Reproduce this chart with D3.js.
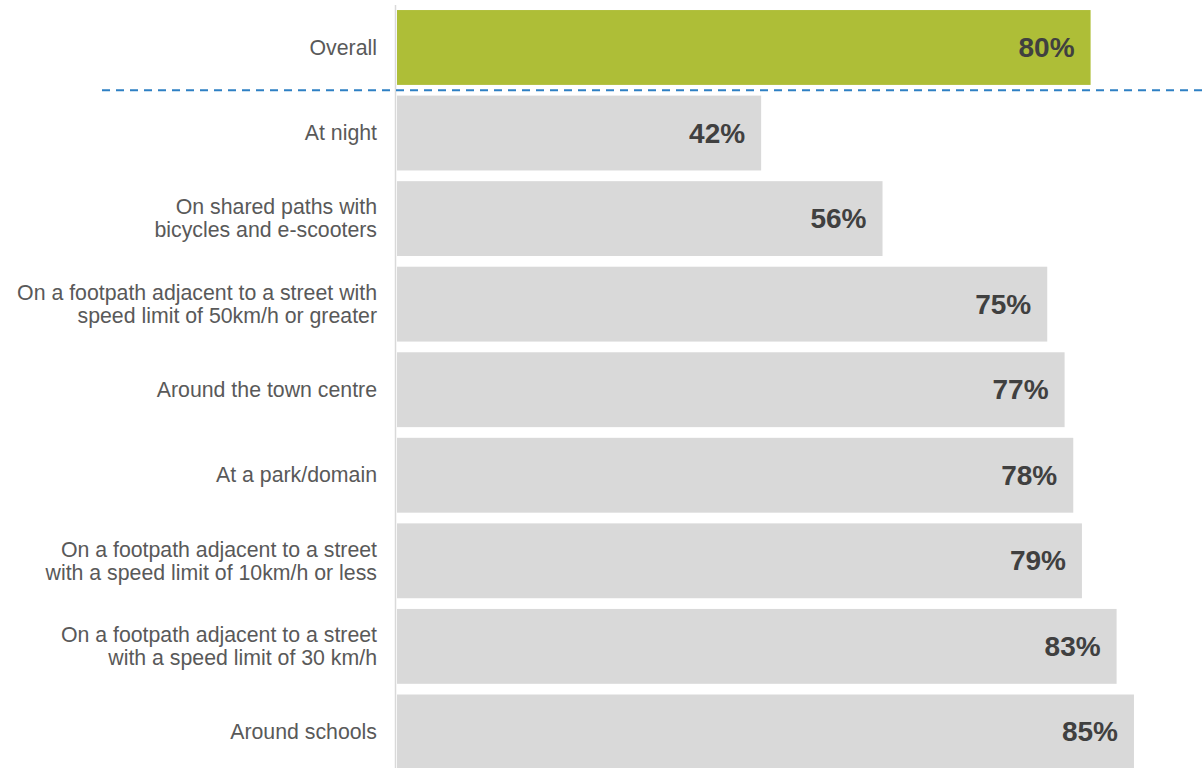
<!DOCTYPE html>
<html>
<head>
<meta charset="utf-8">
<script src="https://cdn.jsdelivr.net/npm/d3@7"></script>
<style>
  html, body { margin: 0; padding: 0; background: #ffffff; }
  svg { display: block; }
</style>
</head>
<body>
<svg id="chart" width="1202" height="768"></svg>
<script>
// Share of respondents who feel safe, by location
const categories = [
  ["Overall"],
  ["At night"],
  ["On shared paths with", "bicycles and e-scooters"],
  ["On a footpath adjacent to a street with", "speed limit of 50km/h or greater"],
  ["Around the town centre"],
  ["At a park/domain"],
  ["On a footpath adjacent to a street", "with a speed limit of 10km/h or less"],
  ["On a footpath adjacent to a street", "with a speed limit of 30 km/h"],
  ["Around schools"]
];
const values = [80, 42, 56, 75, 77, 78, 79, 83, 85];
const highlighted = ["Overall"];

const W = 1202, H = 768;
const svg = d3.select("#chart");

const keys = categories.map(c => c.join(" "));
const rows = keys.map((k, i) => ({ key: k, lines: categories[i], value: values[i] }));

const x = d3.scaleLinear().domain([0, 100]).range([397, 1264]);
const y = d3.scaleBand()
  .domain(keys)
  .range([4.7, 774.7])
  .paddingInner(0.125)
  .paddingOuter(0.0625);

// bars
svg.append("g").selectAll("rect")
  .data(rows)
  .join("rect")
  .attr("x", x(0))
  .attr("y", d => y(d.key))
  .attr("width", d => x(d.value) - x(0))
  .attr("height", y.bandwidth())
  .attr("fill", d => highlighted.includes(d.key) ? "#AEBE37" : "#D9D9D9");

// category axis line
svg.append("line")
  .attr("x1", 395.5).attr("x2", 395.5)
  .attr("y1", 5).attr("y2", H)
  .attr("stroke", "#D9D9D9")
  .attr("stroke-width", 1.5);

// separator between overall and breakdown
const sepY = (y(keys[0]) + y.bandwidth() + y(keys[1])) / 2;
svg.append("line")
  .attr("x1", 102).attr("x2", W)
  .attr("y1", sepY).attr("y2", sepY)
  .attr("stroke", "#2E80C4")
  .attr("stroke-width", 2)
  .attr("stroke-dasharray", "8,6");

// category labels
const lineH = 23;
const labels = svg.append("g")
  .attr("font-family", "Liberation Sans, Arial, sans-serif")
  .attr("font-size", 21.3)
  .attr("fill", "#595959")
  .attr("text-anchor", "end");

rows.forEach(d => {
  const cy = y(d.key) + y.bandwidth() / 2;
  const n = d.lines.length;
  const t = labels.append("text")
    .attr("x", 377)
    .attr("y", cy);
  d.lines.forEach((ln, i) => {
    t.append("tspan")
      .attr("x", 377)
      .attr("y", cy + (i - (n - 1) / 2) * lineH)
      .attr("dy", "0.34em")
      .text(ln);
  });
});

// value labels
svg.append("g")
  .attr("font-family", "Liberation Sans, Arial, sans-serif")
  .attr("font-size", 28)
  .attr("font-weight", "bold")
  .attr("fill", "#404040")
  .attr("text-anchor", "end")
  .selectAll("text")
  .data(rows)
  .join("text")
  .attr("x", d => x(d.value) - 16)
  .attr("y", d => y(d.key) + y.bandwidth() / 2)
  .attr("dy", "0.34em")
  .text(d => d.value + "%");
</script>
</body>
</html>
